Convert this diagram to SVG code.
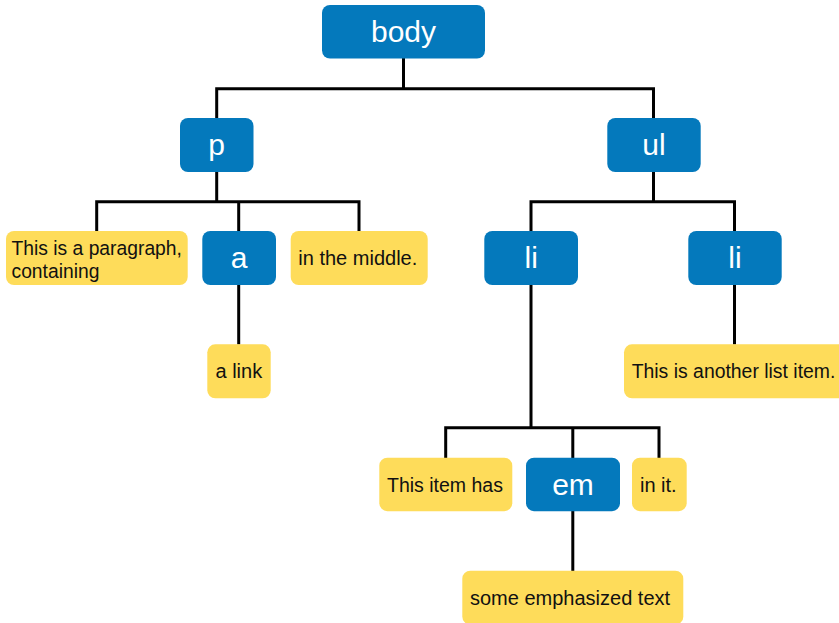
<svg xmlns="http://www.w3.org/2000/svg" width="839" height="623" viewBox="0 0 839 623">
<style>
.el{fill:#0479bc}
.tx{fill:#fedc5a}
.elt{font-family:"Liberation Sans",Arial,sans-serif;font-size:30px;fill:#fff;text-anchor:middle}
.txt{font-family:"Liberation Sans",Arial,sans-serif;font-size:20px;fill:#111}
.conn path{fill:none;stroke:#000;stroke-width:3}
</style>
<rect width="839" height="623" fill="#fff"/>
<g class="conn">
<path d="M403.5 58 V88.7 M216.7 118 V88.7 H653.5 V118"/>
<path d="M216.7 171 V201.7 M96.7 231 V201.7 H359 V231 M238.7 201.7 V231"/>
<path d="M653.5 171 V201.7 M531 231 V201.7 H734.5 V231"/>
<path d="M238.7 285 V344.5"/>
<path d="M734.5 285 V344.5"/>
<path d="M531 285 V427.7 M445.7 458 V427.7 H659 V458 M572.8 427.7 V458"/>
<path d="M572.8 511 V571"/>
</g>
<g id="body"><rect class="el" x="322" y="5" width="163" height="53.5" rx="8"/><text class="elt" x="403.5" y="42">body</text></g>
<g id="p"><rect class="el" x="180" y="118" width="73.5" height="54" rx="8"/><text class="elt" x="216.7" y="155">p</text></g>
<g id="ul"><rect class="el" x="607.3" y="118" width="93.4" height="54" rx="8"/><text class="elt" x="654" y="155">ul</text></g>
<g id="text1"><rect class="tx" x="6" y="231" width="181.7" height="54" rx="8"/><text class="txt" x="11.5" y="255" style="font-size:19.3px">This is a paragraph,</text><text class="txt" x="11.5" y="278.3" style="font-size:19.3px">containing</text></g>
<g id="a"><rect class="el" x="202.3" y="231" width="73.7" height="54" rx="8"/><text class="elt" x="239" y="268">a</text></g>
<g id="text2"><rect class="tx" x="290.7" y="231" width="137" height="54" rx="8"/><text class="txt" x="298.3" y="265">in the middle.</text></g>
<g id="li1"><rect class="el" x="484.3" y="231" width="93.7" height="54" rx="8"/><text class="elt" x="531.2" y="268">li</text></g>
<g id="li2"><rect class="el" x="688.3" y="231" width="93.4" height="54" rx="8"/><text class="elt" x="735" y="268">li</text></g>
<g id="text3"><rect class="tx" x="207.3" y="344.3" width="63.4" height="54" rx="8"/><text class="txt" x="215.5" y="378.3">a link</text></g>
<g id="text4"><rect class="tx" x="624" y="344.3" width="230" height="54" rx="8"/><text class="txt" x="631.7" y="378.3" style="font-size:19.4px">This is another list item.</text></g>
<g id="text5"><rect class="tx" x="379.3" y="457.7" width="133" height="53.5" rx="8"/><text class="txt" x="387" y="491.5" style="font-size:19.5px">This item has</text></g>
<g id="em"><rect class="el" x="526" y="457.7" width="94" height="53.5" rx="8"/><text class="elt" x="573" y="494.5">em</text></g>
<g id="text6"><rect class="tx" x="632" y="457.7" width="54.7" height="53.5" rx="8"/><text class="txt" x="640" y="491.5">in it.</text></g>
<g id="text7"><rect class="tx" x="462.3" y="570.7" width="221" height="54" rx="8"/><text class="txt" x="470" y="604.5">some emphasized text</text></g>
</svg>
